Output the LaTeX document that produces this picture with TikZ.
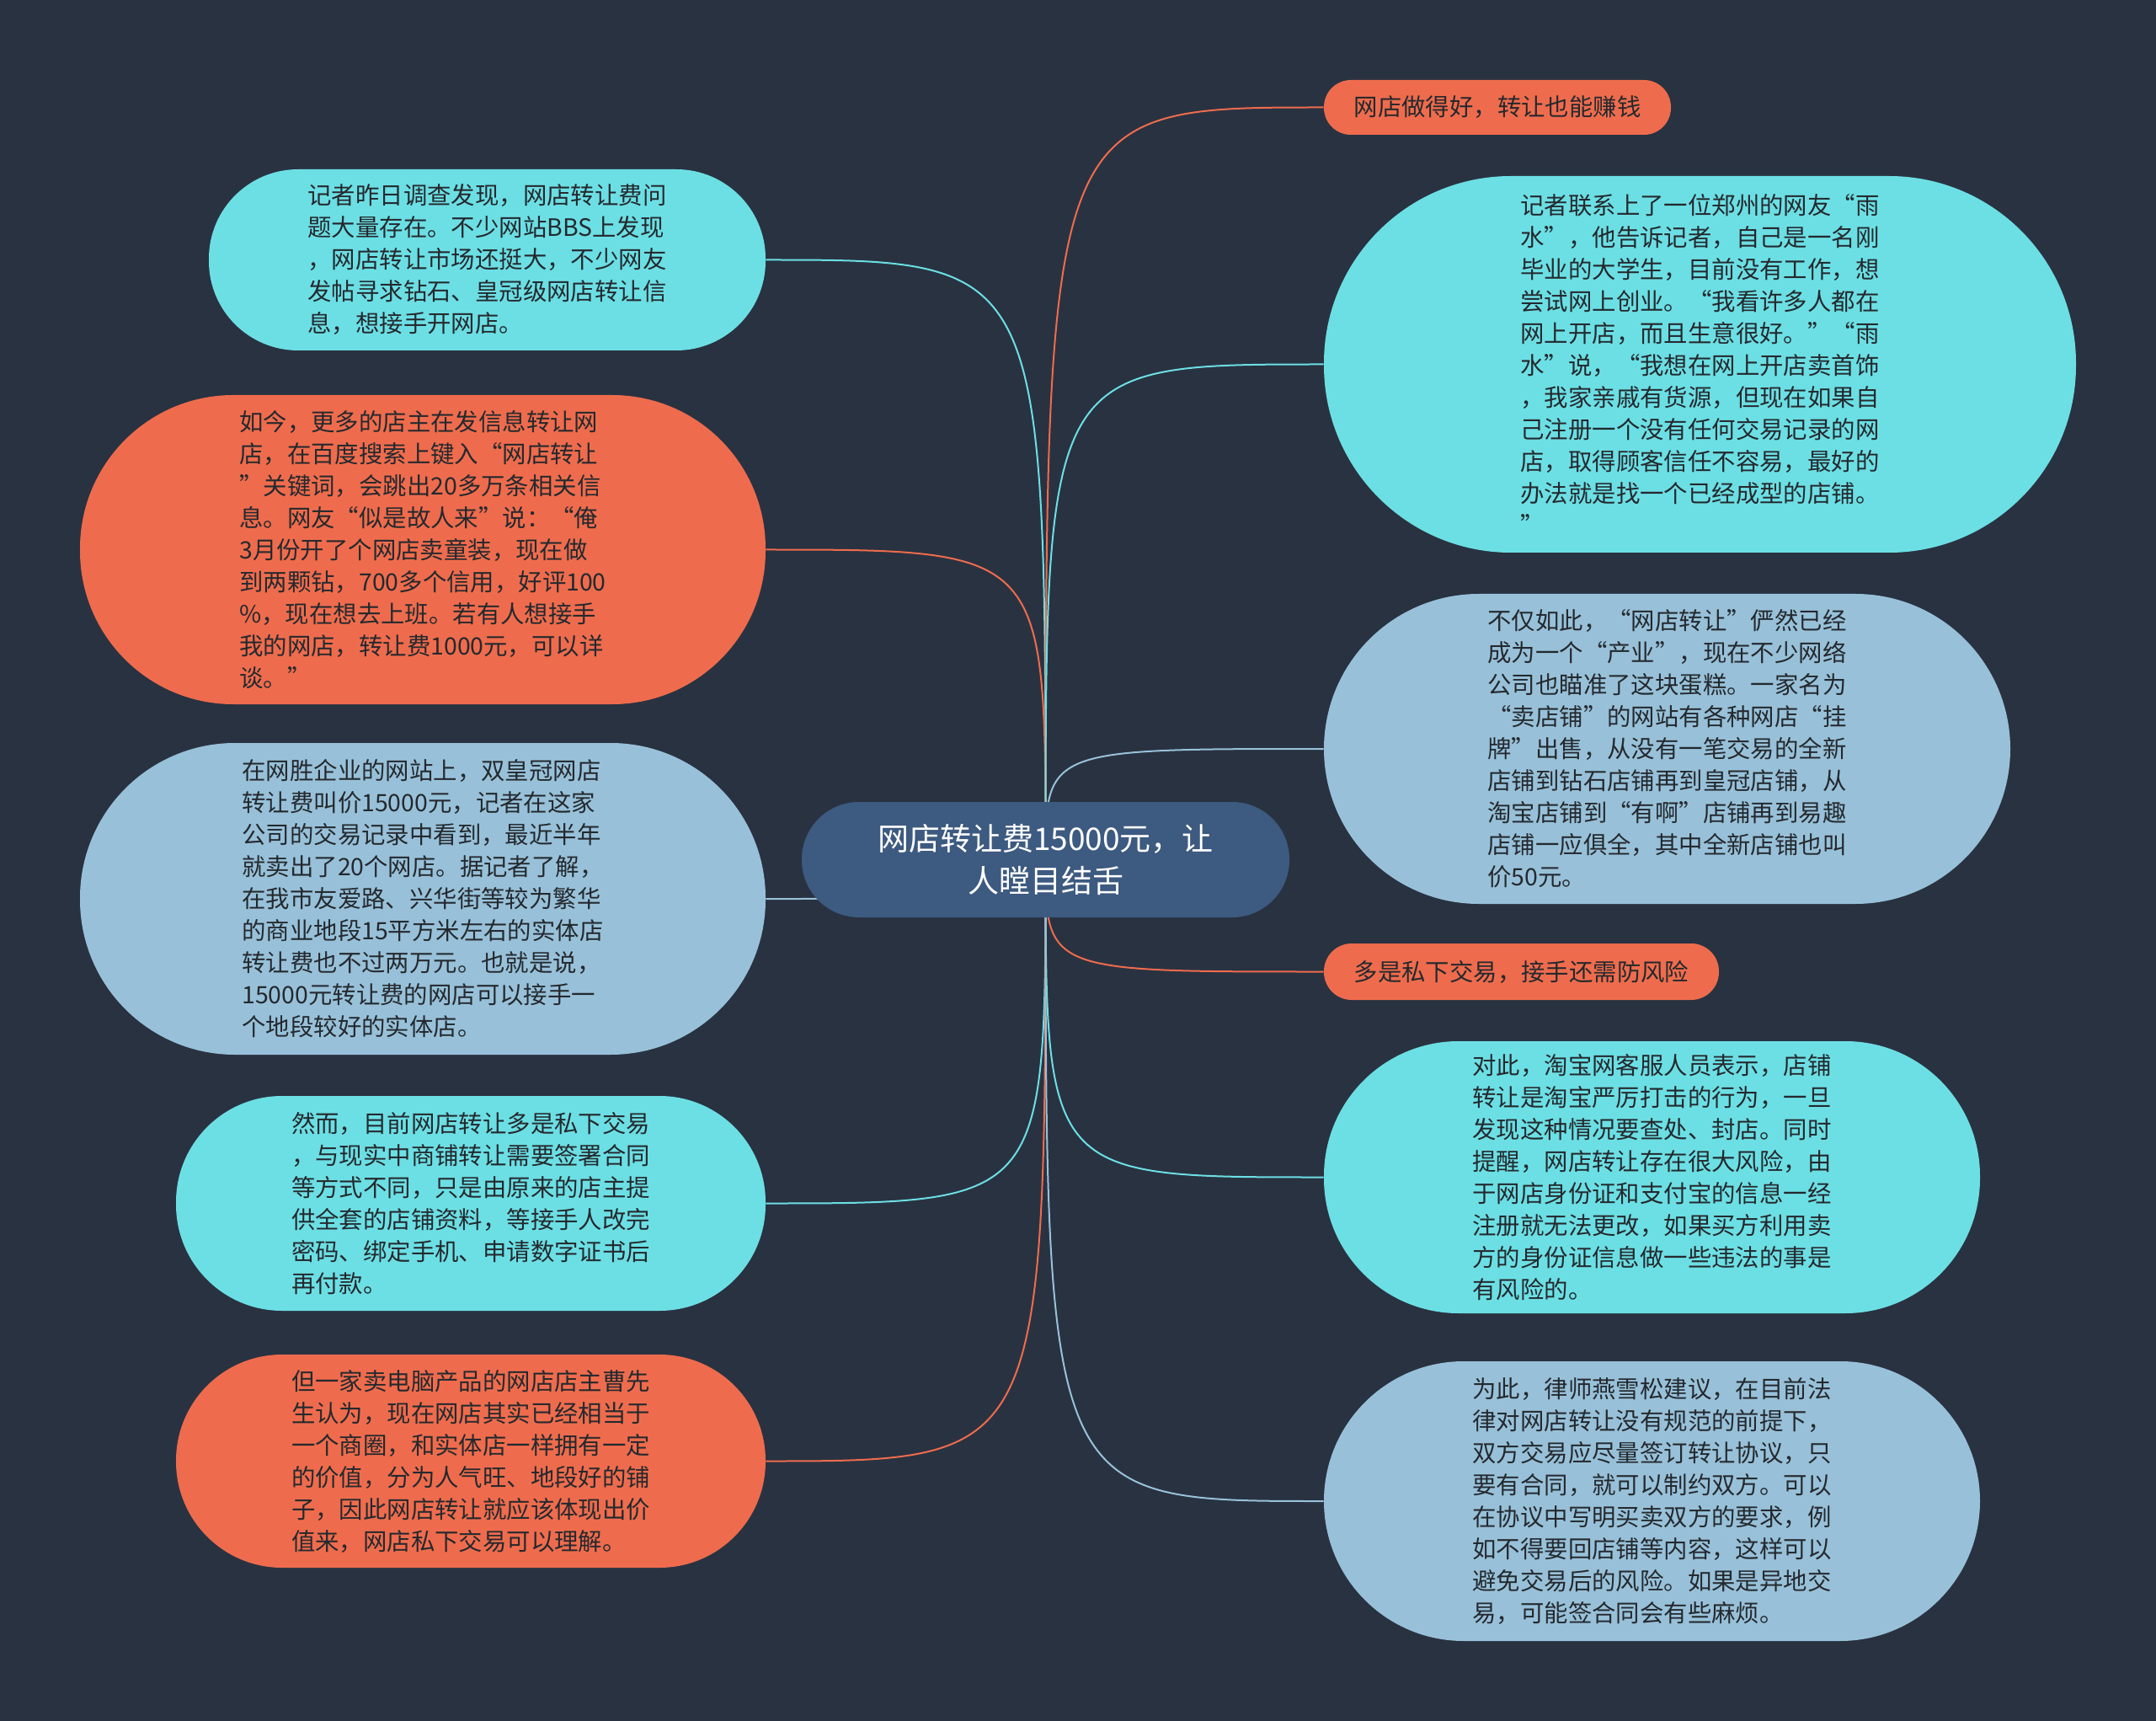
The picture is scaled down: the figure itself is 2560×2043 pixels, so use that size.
\documentclass[tikz,border=0pt]{standalone}
\usepackage{fontspec}
\setmainfont{Noto Sans CJK SC}
\usepackage{tikz}
\definecolor{canvas}{HTML}{293241}
\definecolor{topicblue}{HTML}{3D5A80}
\definecolor{leafcyan}{HTML}{6CDFE4}
\definecolor{leafblue}{HTML}{98C1D9}
\definecolor{leaforange}{HTML}{EE6C4D}
\definecolor{leaftext}{HTML}{24292E}
\pgfdeclarelayer{edges}
\pgfsetlayers{edges,main}

\begin{document}
\begin{tikzpicture}[x=0.5pt, y=-0.5pt,
    topic/.style={fill=topicblue, text=white, align=center, inner sep=0pt,
        font=\fontsize{18.5}{25}\selectfont},
    leaf/.style={inner sep=0pt, align=left, text=leaftext,
        font=\fontsize{14.2}{19}\selectfont},
    dims/.style n args={3}{minimum width=#1pt, minimum height=#2pt, rounded corners=#3pt},
    link/.style={line width=1pt}]
    \useasboundingbox (0,0) rectangle (2560,2043);
    \begin{pgfonlayer}{edges}
        \fill [canvas] (0,0) rectangle (2560,2043);
    \end{pgfonlayer}

    % Root
    \node [topic, dims={289.5}{68.5}{34}] (root) at (1241.5,1020.5) {网店转让费15000元，让\\人瞠目结舌};

    % Left side {l1, ..., l5}
    \node [leaf, fill=leafcyan, dims={330.5}{107.5}{53}]     (l1) at (578.5,308.5)
        {记者昨日调查发现，网店转让费问\\题大量存在。不少网站BBS上发现\\，网店转让市场还挺大，不少网友\\发帖寻求钻石、皇冠级网店转让信\\息，想接手开网店。};
    \node [leaf, fill=leaforange, dims={407}{183.5}{91}]     (l2) at (502,652.5)
        {如今，更多的店主在发信息转让网\\店，在百度搜索上键入“网店转让\\”关键词，会跳出20多万条相关信\\息。网友“似是故人来”说：“俺\\3月份开了个网店卖童装，现在做\\到两颗钻，700多个信用，好评100\\\%，现在想去上班。若有人想接手\\我的网店，转让费1000元，可以详\\谈。”};
    \node [leaf, fill=leafblue, dims={407}{185}{92}]         (l3) at (502,1067)
        {在网胜企业的网站上，双皇冠网店\\转让费叫价15000元，记者在这家\\公司的交易记录中看到，最近半年\\就卖出了20个网店。据记者了解，\\在我市友爱路、兴华街等较为繁华\\的商业地段15平方米左右的实体店\\转让费也不过两万元。也就是说，\\15000元转让费的网店可以接手一\\个地段较好的实体店。};
    \node [leaf, fill=leafcyan, dims={350}{127.5}{63}]       (l4) at (559,1428.5)
        {然而，目前网店转让多是私下交易\\，与现实中商铺转让需要签署合同\\等方式不同，只是由原来的店主提\\供全套的店铺资料，等接手人改完\\密码、绑定手机、申请数字证书后\\再付款。};
    \node [leaf, fill=leaforange, dims={350}{126.5}{63}]     (l5) at (559,1734.5)
        {但一家卖电脑产品的网店店主曹先\\生认为，现在网店其实已经相当于\\一个商圈，和实体店一样拥有一定\\的价值，分为人气旺、地段好的铺\\子，因此网店转让就应该体现出价\\值来，网店私下交易可以理解。};

    % Right side {r1, ..., r6}
    \node [leaf, fill=leaforange, dims={206}{32.5}{16}]      (r1) at (1778,127.5)
        {网店做得好，转让也能赚钱};
    \node [leaf, fill=leafcyan, dims={446.5}{223.5}{111}]    (r2) at (2018.5,432.5)
        {记者联系上了一位郑州的网友“雨\\水”，他告诉记者，自己是一名刚\\毕业的大学生，目前没有工作，想\\尝试网上创业。“我看许多人都在\\网上开店，而且生意很好。”“雨\\水”说，“我想在网上开店卖首饰\\，我家亲戚有货源，但现在如果自\\己注册一个没有任何交易记录的网\\店，取得顾客信任不容易，最好的\\办法就是找一个已经成型的店铺。\\”};
    \node [leaf, fill=leafblue, dims={407.5}{184}{92}]       (r3) at (1979.5,889)
        {不仅如此，“网店转让”俨然已经\\成为一个“产业”，现在不少网络\\公司也瞄准了这块蛋糕。一家名为\\“卖店铺”的网站有各种网店“挂\\牌”出售，从没有一笔交易的全新\\店铺到钻石店铺再到皇冠店铺，从\\淘宝店铺到“有啊”店铺再到易趣\\店铺一应俱全，其中全新店铺也叫\\价50元。};
    \node [leaf, fill=leaforange, dims={234.5}{33.5}{16.5}]  (r4) at (1806.5,1153.5)
        {多是私下交易，接手还需防风险};
    \node [leaf, fill=leafcyan, dims={389.5}{161.5}{80}]     (r5) at (1961.5,1397.5)
        {对此，淘宝网客服人员表示，店铺\\转让是淘宝严厉打击的行为，一旦\\发现这种情况要查处、封店。同时\\提醒，网店转让存在很大风险，由\\于网店身份证和支付宝的信息一经\\注册就无法更改，如果买方利用卖\\方的身份证信息做一些违法的事是\\有风险的。};
    \node [leaf, fill=leafblue, dims={389.5}{166}{83}]       (r6) at (1961.5,1782)
        {为此，律师燕雪松建议，在目前法\\律对网店转让没有规范的前提下，\\双方交易应尽量签订转让协议，只\\要有合同，就可以制约双方。可以\\在协议中写明买卖双方的要求，例\\如不得要回店铺等内容，这样可以\\避免交易后的风险。如果是异地交\\易，可能签合同会有些麻烦。};

    % Links
    \begin{pgfonlayer}{edges}
        \path [link, draw=leafcyan]   (root.center) .. controls (root.center |- l1.east) .. (l1.east);
        \path [link, draw=leaforange] (root.center) .. controls (root.center |- l2.east) .. (l2.east);
        \path [link, draw=leafblue]   (root.center) .. controls (root.center |- l3.east) .. (l3.east);
        \path [link, draw=leafcyan]   (root.center) .. controls (root.center |- l4.east) .. (l4.east);
        \path [link, draw=leaforange] (root.center) .. controls (root.center |- l5.east) .. (l5.east);

        \path [link, draw=leaforange] (root.center) .. controls (root.center |- r1.west) .. (r1.west);
        \path [link, draw=leafcyan]   (root.center) .. controls (root.center |- r2.west) .. (r2.west);
        \path [link, draw=leafblue]   (root.center) .. controls (root.center |- r3.west) .. (r3.west);
        \path [link, draw=leaforange] (root.center) .. controls (root.center |- r4.west) .. (r4.west);
        \path [link, draw=leafcyan]   (root.center) .. controls (root.center |- r5.west) .. (r5.west);
        \path [link, draw=leafblue]   (root.center) .. controls (root.center |- r6.west) .. (r6.west);
    \end{pgfonlayer}
\end{tikzpicture}
\end{document}
